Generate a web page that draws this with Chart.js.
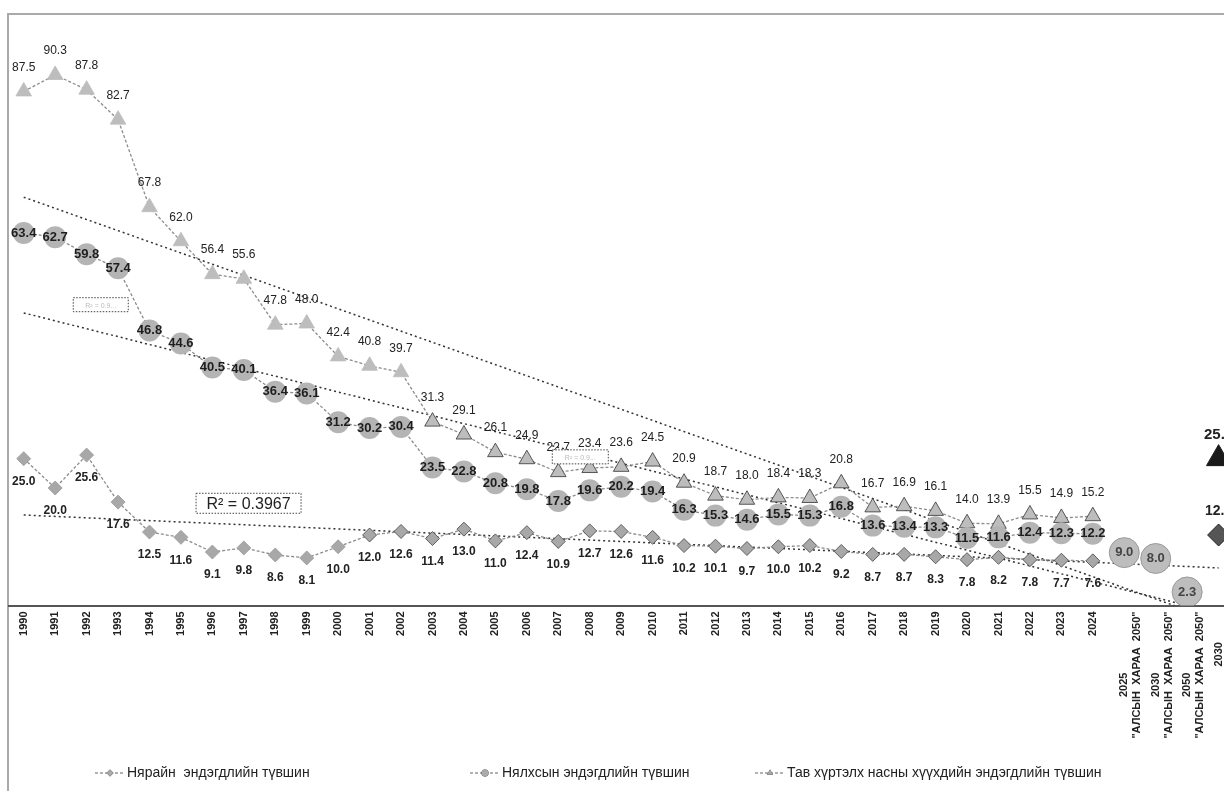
<!DOCTYPE html>
<html>
<head>
<meta charset="utf-8">
<script src="https://cdn.jsdelivr.net/npm/chart.js@4/dist/chart.umd.min.js"></script>
<style>
  html, body { margin: 0; padding: 0; background: #fff; width: 1224px; height: 791px; overflow: hidden; }
  #frame { position: absolute; left: 7px; top: 13px; width: 1300px; height: 900px;
           border-left: 2px solid #aaa; border-top: 2px solid #aaa; }
  #wrap { position: absolute; left: 8px; top: 16px; width: 1243px; height: 775px; }
</style>
</head>
<body>
<div id="frame"></div>
<div id="wrap"><canvas id="mortChart"></canvas></div>
<script>
// categories (x axis)
const categories = [
  '1990','1991','1992','1993','1994','1995','1996','1997','1998','1999',
  '2000','2001','2002','2003','2004','2005','2006','2007','2008','2009',
  '2010','2011','2012','2013','2014','2015','2016','2017','2018','2019',
  '2020','2021','2022','2023','2024',
  ['2025                    ', '"АЛСЫН  ХАРАА  2050"'],
  ['2030                    ', '"АЛСЫН  ХАРАА  2050"'],
  ['2050                    ', '"АЛСЫН  ХАРАА  2050"'],
  ['2030          ', 'Зорилт  ТХЗ']
];

// Нярайн эндэгдлийн түвшин (1990-2024)
const neonatal = [25.0, 20.0, 25.6, 17.6, 12.5, 11.6, 9.1, 9.8, 8.6, 8.1,
  10.0, 12.0, 12.6, 11.4, 13.0, 11.0, 12.4, 10.9, 12.7, 12.6,
  11.6, 10.2, 10.1, 9.7, 10.0, 10.2, 9.2, 8.7, 8.7, 8.3,
  7.8, 8.2, 7.8, 7.7, 7.6];

// Нялхсын эндэгдлийн түвшин
const infant = [63.4, 62.7, 59.8, 57.4, 46.8, 44.6, 40.5, 40.1, 36.4, 36.1,
  31.2, 30.2, 30.4, 23.5, 22.8, 20.8, 19.8, 17.8, 19.6, 20.2,
  19.4, 16.3, 15.3, 14.6, 15.5, 15.3, 16.8, 13.6, 13.4, 13.3,
  11.5, 11.6, 12.4, 12.3, 12.2];

// Тав хүртэлх насны хүүхдийн эндэгдлийн түвшин
const under5 = [87.5, 90.3, 87.8, 82.7, 67.8, 62.0, 56.4, 55.6, 47.8, 48.0,
  42.4, 40.8, 39.7, 31.3, 29.1, 26.1, 24.9, 22.7, 23.4, 23.6,
  24.5, 20.9, 18.7, 18.0, 18.4, 18.3, 20.8, 16.7, 16.9, 16.1,
  14.0, 13.9, 15.5, 14.9, 15.2];

// "Алсын хараа 2050" targets (2025, 2030, 2050)
const visionTargets = [9.0, 8.0, 2.3];
// 2030 SDG targets
const sdgUnder5 = [25.0];
const sdgNeonatal = [12.0];

// linear trend lines, start / end values
const trendUnder5 = [69.5, -0.8];     // 1990 .. 2050
const trendInfant = [49.8, 0.0];      // 1990 .. 2050
const trendNeonatal = [15.4, 6.4];    // 1990 .. 2030 target column

const n = categories.length;
function pad(arr, from) {
  const out = new Array(n).fill(null);
  arr.forEach((v, i) => { out[from + i] = v; });
  return out;
}
function trend(pair, endIdx) {
  const out = new Array(n).fill(null);
  out[0] = pair[0];
  out[endIdx] = pair[1];
  return out;
}

const lineColor = '#8c8c8c';

const pointLabels = {
  id: 'pointLabels',
  afterDatasetsDraw(chart) {
    const ctx = chart.ctx;
    chart.data.datasets.forEach((ds, di) => {
      if (!ds.lbl) return;
      const meta = chart.getDatasetMeta(di);
      meta.data.forEach((pt, i) => {
        const v = ds.data[i];
        if (v == null) return;
        ctx.save();
        ctx.font = ds.lbl.font;
        ctx.fillStyle = ds.lbl.color;
        ctx.textAlign = 'center';
        ctx.textBaseline = 'middle';
        ctx.fillText(v.toFixed(1), pt.x + (ds.lbl.dx || 0), pt.y + ds.lbl.dy);
        ctx.restore();
      });
    });

    // R² boxes of the trend lines
    const xs = chart.scales.x, ys = chart.scales.y;
    const boxes = [
      {i: 7.15, v: 17.4, w: 105, h: 20, text: 'R² = 0.3967', font: '16px Arial', color: '#222'},
      {i: 2.45, v: 51.2, w: 55, h: 14, text: 'R² = 0.9...', font: '7px Arial', color: '#bbb'},
      {i: 17.7, v: 25.3, w: 56, h: 14, text: 'R² = 0.9...', font: '7px Arial', color: '#bbb'}
    ];
    boxes.forEach(b => {
      const cx = xs.getPixelForValue(b.i), cy = ys.getPixelForValue(b.v);
      ctx.save();
      ctx.fillStyle = '#fff';
      ctx.fillRect(cx - b.w / 2, cy - b.h / 2, b.w, b.h);
      ctx.setLineDash([1.5, 1.5]);
      ctx.strokeStyle = '#444';
      ctx.lineWidth = 1;
      ctx.strokeRect(cx - b.w / 2, cy - b.h / 2, b.w, b.h);
      ctx.font = b.font;
      ctx.fillStyle = b.color;
      ctx.textAlign = 'center';
      ctx.textBaseline = 'middle';
      ctx.fillText(b.text, cx, cy + 1);
      ctx.restore();
    });
  }
};

// legend drawn by hand so the wide gaps between items match
const legendItems = [
  {x: 87, tx: 119, w: 191, style: 'rectRot', text: 'Нярайн  эндэгдлийн түвшин'},
  {x: 462, tx: 494, w: 213, style: 'circle', text: 'Нялхсын эндэгдлийн түвшин'},
  {x: 747, tx: 779, w: 378, style: 'triangle', text: 'Тав хүртэлх насны хүүхдийн эндэгдлийн түвшин'}
];
const bottomLegend = {
  id: 'bottomLegend',
  afterDraw(chart) {
    const ctx = chart.ctx;
    const y = 757;
    legendItems.forEach(it => {
      ctx.save();
      ctx.strokeStyle = '#999';
      ctx.lineWidth = 1.5;
      ctx.setLineDash([3, 2]);
      ctx.beginPath();
      ctx.moveTo(it.x, y);
      ctx.lineTo(it.x + 30, y);
      ctx.stroke();
      ctx.setLineDash([]);
      Chart.helpers.drawPoint(ctx, {pointStyle: it.style, radius: 3.5, borderWidth: 0}, it.x + 15, y);
      ctx.fillStyle = '#aaa';
      ctx.fill();
      ctx.font = '14px "Liberation Sans Narrow", "Arial Narrow", Arial';
      ctx.fillStyle = '#222';
      ctx.textBaseline = 'middle';
      ctx.fillText(it.text, it.tx, y, it.w);
      ctx.restore();
    });
  }
};

new Chart(document.getElementById('mortChart'), {
  type: 'line',
  data: {
    labels: categories,
    datasets: [
      {
        label: 'Нярайн  эндэгдлийн түвшин',
        data: neonatal,
        borderColor: lineColor, borderWidth: 1.3, borderDash: [3, 2],
        pointStyle: 'rectRot', pointRadius: 7,
        pointBackgroundColor: '#a8a8a8',
        pointBorderColor: ctx => ctx.dataIndex > 10 ? '#444' : '#999',
        pointBorderWidth: 0.8,
        lbl: {dy: 23, font: 'bold 12px Arial', color: '#222'}
      },
      {
        label: 'Нялхсын эндэгдлийн түвшин',
        data: infant,
        borderColor: lineColor, borderWidth: 1.3, borderDash: [3, 2],
        pointStyle: 'circle', pointRadius: 11,
        pointBackgroundColor: '#b4b4b4', pointBorderColor: '#b4b4b4', pointBorderWidth: 0,
        lbl: {dy: 0, font: 'bold 13px Arial', color: '#1e1e1e'}
      },
      {
        label: 'Тав хүртэлх насны хүүхдийн эндэгдлийн түвшин',
        data: under5,
        borderColor: lineColor, borderWidth: 1.3, borderDash: [3, 2],
        pointStyle: 'triangle', pointRadius: 9,
        pointBackgroundColor: '#bdbdbd',
        pointBorderColor: ctx => ctx.dataIndex > 12 ? '#333' : '#bdbdbd',
        pointBorderWidth: 0.8,
        lbl: {dy: -24, font: '12px Arial', color: '#222'}
      },
      {
        label: 'vision',
        data: pad(visionTargets, 35),
        showLine: false,
        pointStyle: 'circle', pointRadius: 15,
        pointBackgroundColor: '#bdbdbd', pointBorderColor: '#999', pointBorderWidth: 1,
        lbl: {dy: 0, font: 'bold 13px Arial', color: '#444'}
      },
      {
        label: 'sdgUnder5',
        data: pad(sdgUnder5, 38),
        showLine: false,
        pointStyle: 'triangle', pointRadius: 14,
        pointBackgroundColor: '#1a1a1a', pointBorderColor: '#1a1a1a',
        lbl: {dy: -24, font: 'bold 15px Arial', color: '#222'}
      },
      {
        label: 'sdgNeonatal',
        data: pad(sdgNeonatal, 38),
        showLine: false,
        pointStyle: 'rectRot', pointRadius: 11,
        pointBackgroundColor: '#555', pointBorderColor: '#222', pointBorderWidth: 1,
        lbl: {dy: -24, font: 'bold 14px Arial', color: '#222'}
      },
      {
        label: 'trendUnder5', data: trend(trendUnder5, 37), spanGaps: true,
        borderColor: '#333', borderWidth: 1.5, borderDash: [2, 3], pointRadius: 0
      },
      {
        label: 'trendInfant', data: trend(trendInfant, 37), spanGaps: true,
        borderColor: '#333', borderWidth: 1.5, borderDash: [2, 3], pointRadius: 0
      },
      {
        label: 'trendNeonatal', data: trend(trendNeonatal, 38), spanGaps: true,
        borderColor: '#333', borderWidth: 1.5, borderDash: [2, 3], pointRadius: 0
      }
    ]
  },
  options: {
    responsive: true,
    maintainAspectRatio: false,
    animation: false,
    layout: {autoPadding: false, padding: {left: 0, right: 0, top: 2, bottom: 0}},
    plugins: {
      legend: {display: false},
      tooltip: {enabled: false},
      title: {display: false}
    },
    scales: {
      x: {
        offset: true,
        grid: {display: false, drawTicks: false},
        border: {display: true, color: '#555', width: 2},
        ticks: {
          autoSkip: false, maxRotation: 90, minRotation: 90, padding: 6,
          color: '#222', font: {family: 'Arial', weight: 'bold', size: 11}
        },
        afterFit: s => { s.height = 185.5; }
      },
      y: {
        display: false,
        min: 0,
        max: 100
      }
    }
  },
  plugins: [pointLabels, bottomLegend]
});
</script>
</body>
</html>
